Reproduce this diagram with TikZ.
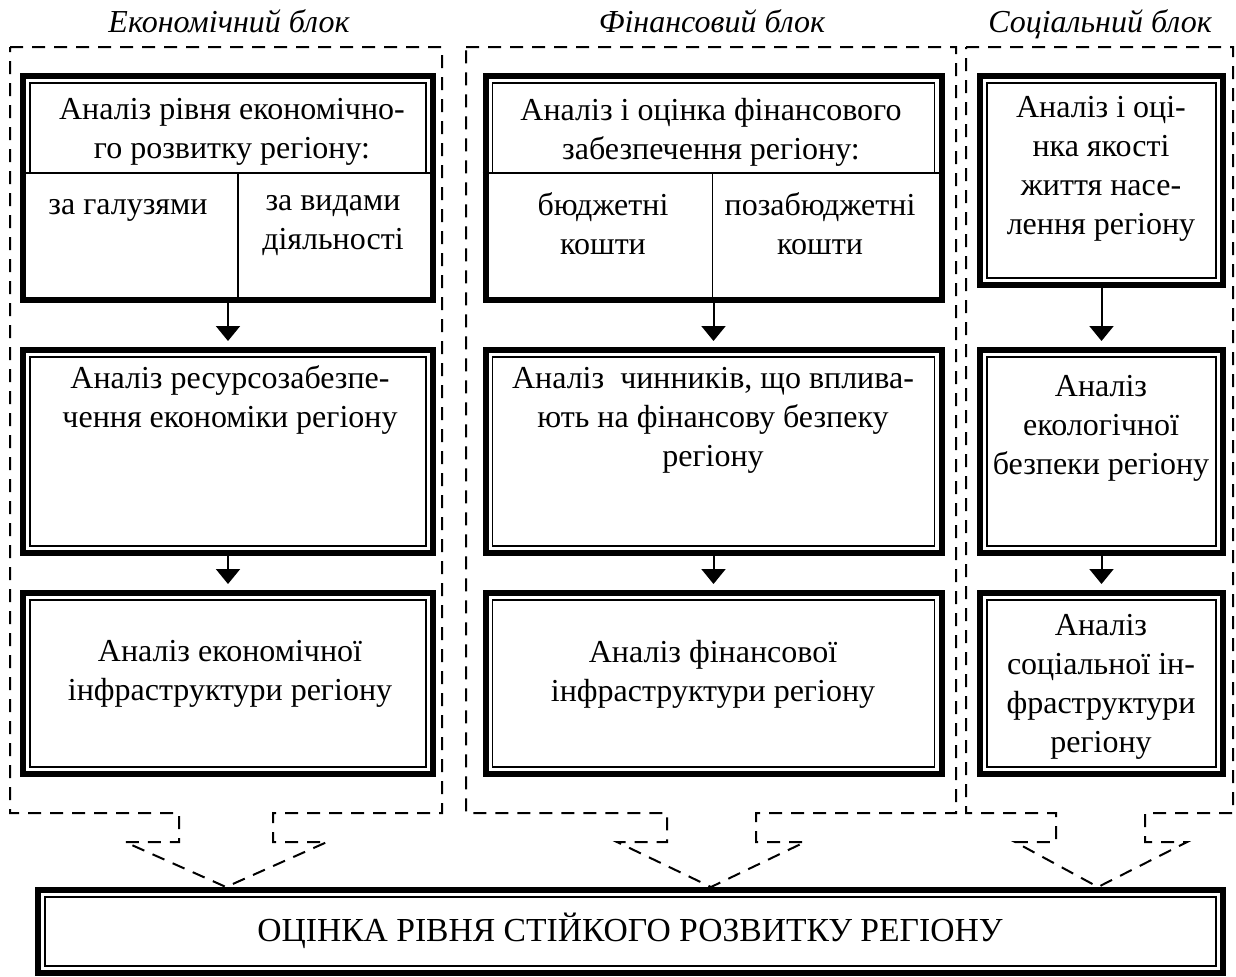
\documentclass[tikz,border=0pt]{standalone}
\usepackage{fontspec}
\setmainfont{Liberation Serif}
\usetikzlibrary{arrows.meta,positioning,calc}
\newcommand{\dblframe}[1]{\draw[thinline] ([shift={(5pt,-5pt)}]#1.north west) rectangle ([shift={(-5pt,5pt)}]#1.south east);}

\begin{document}
\begin{tikzpicture}[x=0.5pt,y=-0.5pt,
	bx/.style={draw, line width=3pt, inner sep=0pt},
	thinline/.style={line width=0.75pt},
	txt/.style={align=center, inner sep=0pt, font=\fontsize{16}{19.5}\selectfont},
	ttl/.style={inner sep=0pt, anchor=base, font=\fontsize{16}{18}\selectfont\itshape},
	cont/.style={line width=1pt, dash pattern=on 6.5pt off 4.5pt},
	arr/.style={line width=1pt, -{Triangle[length=7.5pt,width=12pt]}, shorten >=3pt}]
	\useasboundingbox (0,0) rectangle (1236,976);

	% block titles
	\node[ttl] (te) at (229,32) {Економічний блок};
	\node[ttl] (tf) at (712,32) {Фінансовий блок};
	\node[ttl] (ts) at (1100,32) {Соціальний блок};

	% boxes
	\node[bx, minimum width=205pt, minimum height=112pt] (e1) at (228,188) {};
	\node[bx, minimum width=228pt, minimum height=112pt] (f1) at (713.5,188) {};
	\node[bx, minimum width=121.5pt, minimum height=104.5pt] (s1) at (1101.5,180.5) {};
	\node[bx, minimum width=205pt, minimum height=101.5pt] (e2) at (228,451.5) {};
	\node[bx, minimum width=228pt, minimum height=101.5pt] (f2) at (713.5,451.5) {};
	\node[bx, minimum width=121.5pt, minimum height=101.5pt] (s2) at (1101.5,451.5) {};
	\node[bx, minimum width=205pt, minimum height=90.5pt] (e3) at (228,683.5) {};
	\node[bx, minimum width=228pt, minimum height=90.5pt] (f3) at (713.5,683.5) {};
	\node[bx, minimum width=121.5pt, minimum height=90.5pt] (s3) at (1101.5,683.5) {};
	\node[bx, minimum width=592.5pt, minimum height=41.5pt] (res) at (630.5,931.5) {};
	\foreach \n in {s1,e2,f2,s2,e3,f3,s3,res}{
		\dblframe{\n}
	}

	% split first boxes
	\foreach \n/\d in {e1/109pt,f1/115pt}{
		\draw[thinline] ([shift={(5pt,-5pt)}]\n.north west) rectangle ([shift={(-5pt,-50pt)}]\n.north east);
		\draw[thinline] ([yshift=-50pt]\n.north west) -- ([yshift=-50pt]\n.north east);
		\draw[thinline] ([xshift=\d,yshift=-50pt]\n.north west) -- ([xshift=\d]\n.south west);
	}

	% texts
	\node[txt] (e1h) at (232,132) {Аналіз рівня економічно-\\го розвитку регіону:};
	\node[txt] (e1a) at (128,210) {за галузями};
	\node[txt] (e1b) at (333,226) {за видами\\діяльності};
	\node[txt] (f1h) at (711,132) {Аналіз і оцінка фінансового\\забезпечення регіону:};
	\node[txt] (f1a) at (603,224) {бюджетні\\кошти};
	\node[txt] (f1b) at (820,224) {позабюджетні\\кошти};
	\node[txt] (s1t) at (1101,169) {Аналіз і оці-\\нка якості\\життя насе-\\лення регіону};
	\node[txt] (e2t) at (230,400) {Аналіз ресурсозабезпе-\\чення економіки регіону};
	\node[txt] (f2t) at (713,420) {Аналіз\ \ чинників, що вплива-\\ють на фінансову безпеку\\регіону};
	\node[txt] (s2t) at (1101,428) {Аналіз\\екологічної\\безпеки регіону};
	\node[txt] (e3t) at (230,674) {Аналіз економічної\\інфраструктури регіону};
	\node[txt] (f3t) at (713,674) {Аналіз фінансової\\інфраструктури регіону};
	\node[txt] (s3t) at (1101,687) {Аналіз\\соціальної ін-\\фраструктури\\регіону};
	\node[txt, font=\fontsize{16.8}{20}\selectfont] (rest) at (630,931) {ОЦІНКА РІВНЯ СТІЙКОГО РОЗВИТКУ РЕГІОНУ};

	% arrows
	\foreach \a/\b in {e1/e2,e2/e3,f1/f2,f2/f3,s1/s2,s2/s3}
		\draw[arr] (\a) -- (\b);

	% dashed blocks
	\draw[cont] (10,47) -- (442,47) -- (442,813) -- (273,813) -- (273,842) -- (327,842)
		-- (226,887) -- (125,842) -- (179,842) -- (179,813) -- (10,813) -- cycle;
	\draw[cont] (466,47) -- (956,47) -- (956,813) -- (756,813) -- (756,842) -- (805,842)
		-- (711,887) -- (617,842) -- (667,842) -- (667,813) -- (466,813) -- cycle;
	\draw[cont] (966,47) -- (1233,47) -- (1233,813) -- (1145,813) -- (1145,842) -- (1187,842)
		-- (1098,887) -- (1015,842) -- (1056,842) -- (1056,813) -- (966,813) -- cycle;
\end{tikzpicture}
\end{document}
